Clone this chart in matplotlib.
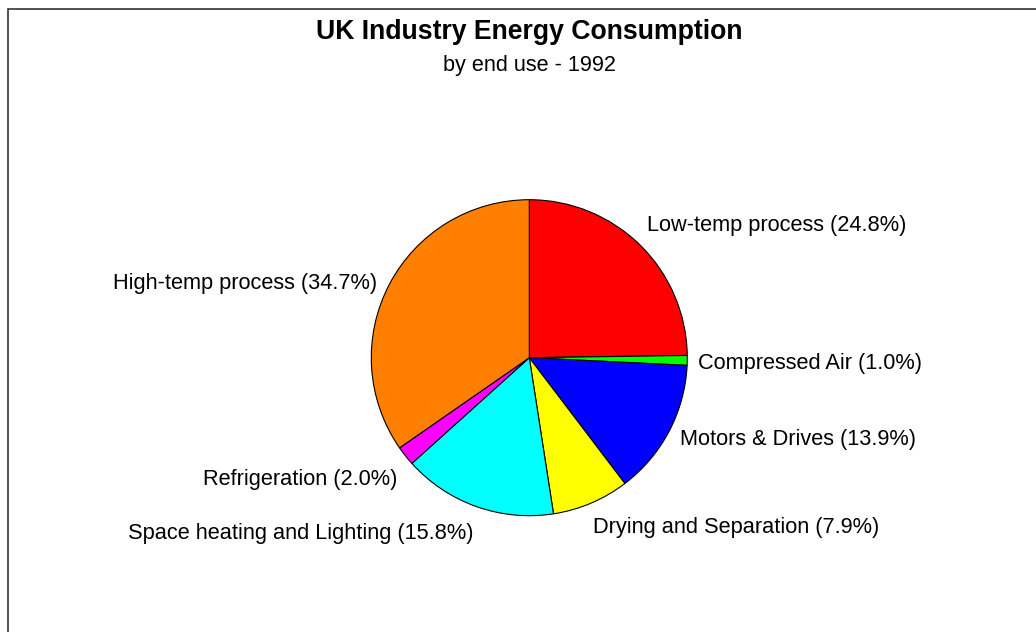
import matplotlib.pyplot as plt
from matplotlib.patches import Rectangle

plt.rcParams["font.family"] = ["Liberation Sans", "DejaVu Sans"]

# data, clockwise from 12 o'clock
categories = [
    "Low-temp process",
    "Compressed Air",
    "Motors & Drives",
    "Drying and Separation",
    "Space heating and Lighting",
    "Refrigeration",
    "High-temp process",
]
shares = [24.8, 1.0, 13.9, 7.9, 15.8, 2.0, 34.7]
colors = ["#ff0000", "#00ff00", "#0000ff", "#ffff00", "#00ffff", "#ff00ff", "#ff8000"]

# label anchor points in pie-radius units, with alignment
label_pos = [
    (0.747, 0.838, "left"),
    (1.070, -0.035, "left"),
    (0.956, -0.518, "left"),
    (0.405, -1.074, "left"),
    (-0.355, -1.112, "right"),
    (-0.834, -0.774, "right"),
    (-0.965, 0.468, "right"),
]

W, H = 1036, 632
fig = plt.figure(figsize=(W / 100, H / 100), dpi=100)

# outer frame (open to the right/bottom like the original export)
fig.patches.append(Rectangle((8 / W, -0.1), 1.2, 1 - 9 / H + 0.1, transform=fig.transFigure,
                             fill=False, edgecolor="#333333", linewidth=1.2))

cx, cy, r = 529.3, 357.7, 158
ax = fig.add_axes([(cx - r) / W, (H - cy - r) / H, 2 * r / W, 2 * r / H])
ax.pie(shares, colors=colors, startangle=90, counterclock=False, radius=1,
       wedgeprops=dict(edgecolor="black", linewidth=0.8))
ax.set_xlim(-1, 1)
ax.set_ylim(-1, 1)
ax.set_aspect("auto")
ax.axis("off")

for name, val, (x, y, ha) in zip(categories, shares, label_pos):
    ax.text(x, y, f"{name} ({val:.1f}%)", ha=ha, va="center", fontsize=15.7,
            color="black", clip_on=False)

fig.text(cx / W, 1 - 32 / H, "UK Industry Energy Consumption", ha="center", va="center",
         fontsize=19.2, fontweight="bold")
fig.text(cx / W, 1 - 65 / H, "by end use - 1992", ha="center", va="center", fontsize=15.6)

fig.savefig("out.png", dpi=100, facecolor="white")
